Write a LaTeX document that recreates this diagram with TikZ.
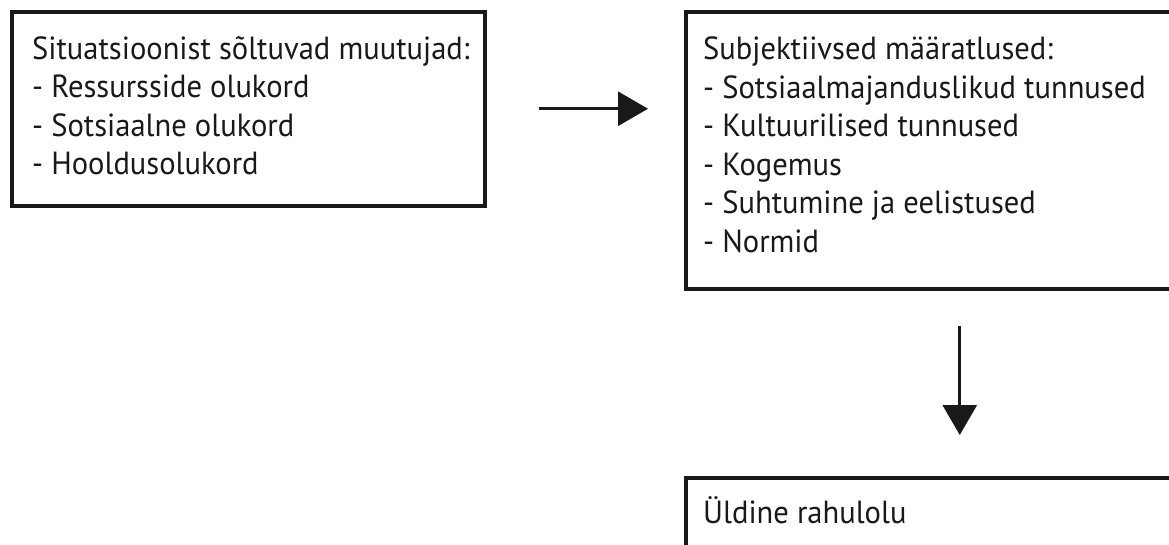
\documentclass[tikz,border=0pt]{standalone}
\usepackage{fontspec}
\setmainfont{PT Sans}[FakeStretch=0.955]
\usetikzlibrary{arrows.meta}
\begin{document}
\begin{tikzpicture}[x=1pt,y=-1pt,
  box/.style={draw=black!90, line width=3.5pt, anchor=north west, inner sep=0pt},
  txt/.style={anchor=north west, align=left, inner sep=0pt, text=black!90,
    font=\fontsize{32}{38.5}\selectfont},
  arr/.style={draw=black!90, line width=3pt, -{Triangle[length=30pt,width=34pt]}}]
\useasboundingbox (0,0) rectangle (1169,544);
\clip (0,0) rectangle (1169,544);
% boxes
\node[box, minimum width=473pt, minimum height=194pt] (sit) at (10,10) {};
\node[box, minimum width=548pt, minimum height=277pt] (subj) at (684,10) {};
\node[box, minimum width=548pt, minimum height=120pt] (sat) at (684,476) {};
% texts
\node[txt] (sittext) at (32,36) {Situatsioonist sõltuvad muutujad:\\- Ressursside olukord\\- Sotsiaalne olukord\\- Hooldusolukord};
\node[txt] (subjtext) at (703,37) {Subjektiivsed määratlused:\\- Sotsiaalmajanduslikud tunnused\\- Kultuurilised tunnused\\- Kogemus\\- Suhtumine ja eelistused\\- Normid};
\node[txt] (sattext) at (703,496) {Üldine rahulolu};
% connectors
\draw[arr, shorten <=52pt, shorten >=36pt] (sit.east) -- (sit.east -| subj.west);
\draw[arr, shorten <=35pt, shorten >=41pt] (subj.south) -- (subj.south |- sat.north);
\end{tikzpicture}
\end{document}
